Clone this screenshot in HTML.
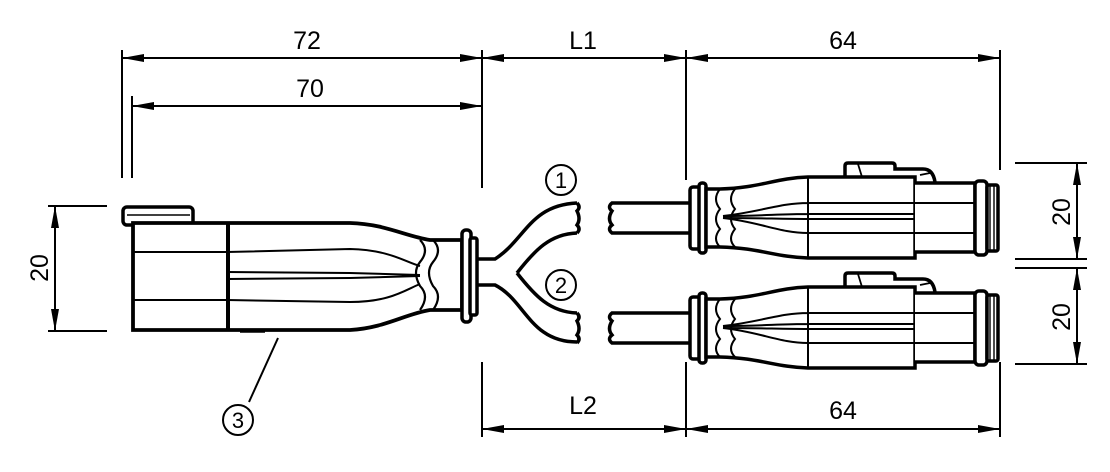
<!DOCTYPE html>
<html><head><style>html,body{margin:0;padding:0;background:#fff}svg{display:block}text{font-family:"Liberation Sans",sans-serif;fill:#000}</style></head>
<body>
<svg width="1110" height="472" viewBox="0 0 1110 472" xmlns="http://www.w3.org/2000/svg">
<defs>
<marker id="a" viewBox="0 0 22 8" refX="22" refY="4" markerWidth="22" markerHeight="8" markerUnits="userSpaceOnUse" orient="auto-start-reverse"><path d="M0,0L22,4L0,8z" fill="#000"/></marker>
<g id="conn" fill="none" stroke="#000">
  <path d="M690,203H612q-5,4 0,8q-5,8 0,14q-5,4 0,8H690" stroke-width="3.5" fill="#fff"/>
  <rect x="690" y="187" width="10" height="62" rx="3" stroke-width="3.5" fill="#fff"/>
  <rect x="699" y="183" width="7" height="70" rx="3" stroke-width="3.5" fill="#fff"/>
  <path d="M706,189H720C760,188 775,178 808,177H915V258H808C775,257 760,248 720,247H706Z" stroke-width="3.5" fill="#fff"/>
  <path d="M720,189q-8,10 0,20q-8,10 0,20q-8,10 0,18M735,189q-8,10 0,20q-8,10 0,20q-8,10 0,18" stroke-width="2"/>
  <path d="M808,177V258M723,216C760,212 780,203 808,203H915M723,216C760,216 780,214 808,214H915M723,218C760,218 780,219 808,219H915M723,218C760,222 780,233 808,233H915" stroke-width="2"/>
  <path d="M845,177V166q0,-3 3,-3H892q3,0 3,3v3h28q10,0 12,13" stroke-width="3.5"/>
  <path d="M858,164l4,13M920,175l10,-2" stroke-width="1.8"/>
  <path d="M915,183H975V252H915" stroke-width="3.5" fill="#fff"/>
  <path d="M915,203H975M915,233H975" stroke-width="2"/>
  <rect x="975" y="181" width="12" height="74" rx="4" stroke-width="3.5" fill="#fff"/>
  <rect x="987" y="185" width="11" height="66" rx="2" stroke-width="3.5" fill="#fff"/>
  <path d="M990,185V251M994,185V251" stroke-width="1.4"/>
</g>
</defs>

<g stroke="#000" fill="none">
<path d="M122,50V178M132,96V178M482,50V188M686,50V180M1000,50V170" stroke-width="2"/>
<line x1="122" y1="58" x2="482" y2="58" stroke-width="2" marker-start="url(#a)" marker-end="url(#a)"/>
<line x1="132" y1="106" x2="482" y2="106" stroke-width="2" marker-start="url(#a)" marker-end="url(#a)"/>
<line x1="482" y1="58" x2="686" y2="58" stroke-width="2" marker-start="url(#a)" marker-end="url(#a)"/>
<line x1="686" y1="58" x2="1000" y2="58" stroke-width="2" marker-start="url(#a)" marker-end="url(#a)"/>
<path d="M482,362V437M686,362V437M1000,362V437" stroke-width="2"/>
<line x1="482" y1="429" x2="686" y2="429" stroke-width="2" marker-start="url(#a)" marker-end="url(#a)"/>
<line x1="686" y1="429" x2="1000" y2="429" stroke-width="2" marker-start="url(#a)" marker-end="url(#a)"/>
<path d="M48,206H107M48,331H107" stroke-width="2"/>
<line x1="55" y1="206" x2="55" y2="331" stroke-width="2" marker-start="url(#a)" marker-end="url(#a)"/>
<path d="M1015,163H1087M1015,259H1087M1015,268H1087M1015,364H1087" stroke-width="2"/>
<line x1="1077" y1="163" x2="1077" y2="259" stroke-width="2" marker-start="url(#a)" marker-end="url(#a)"/>
<line x1="1077" y1="268" x2="1077" y2="364" stroke-width="2" marker-start="url(#a)" marker-end="url(#a)"/>

<rect x="123" y="207" width="70" height="18" rx="4" stroke-width="3.5" fill="#fff"/>
<path d="M127,215H190" stroke-width="1.4"/>
<path d="M133,223H350C385,224 405,236 430,240H462V310H430C405,314 385,328 350,330H133Z" stroke-width="3.8" fill="#fff"/>
<path d="M227,223V330M229,223V330" stroke-width="2"/>
<path d="M133,252H227L350,249C390,250 405,262 420,266M133,300H227L350,302C390,302 405,290 420,284M227,272L350,273L420,275M227,279L350,278L420,276" stroke-width="2"/>
<path d="M420,240q10,10 0,22q-8,10 0,24q10,10 0,24M433,240q10,10 0,22q-8,10 0,24q10,10 0,24" stroke-width="2.2"/>
<path d="M240,331H265" stroke-width="3.5"/>
<rect x="462" y="230" width="9" height="92" rx="4" stroke-width="3.5" fill="#fff"/>
<rect x="470" y="238" width="7" height="77" rx="2" stroke-width="3.5" fill="#fff"/>
<!-- Y split cables -->
<path d="M477,259H495C525,240 530,205 577,203" stroke-width="3.5"/>
<path d="M477,285H495C525,300 530,342 577,342" stroke-width="3.5"/>
<path d="M517,273C535,250 550,234 577,233" stroke-width="3.5"/>
<path d="M517,273C535,296 550,312 577,313" stroke-width="3.5"/>
<path d="M577,203q4,4 0,8q4,8 0,14q4,4 0,8M577,313q4,4 0,8q4,8 0,14q4,4 0,8" stroke-width="3.5"/>
<circle cx="561" cy="180" r="15" stroke-width="2"/>
<circle cx="561" cy="285" r="15" stroke-width="2"/>
<circle cx="238" cy="420" r="15" stroke-width="2"/>
<path d="M278,338L249,402" stroke-width="2"/>
</g>

<use href="#conn"/>
<use href="#conn" transform="translate(0,110)"/>

<g font-size="25">
<text x="307" y="49" text-anchor="middle">72</text>
<text x="310" y="97" text-anchor="middle">70</text>
<text x="583" y="49" text-anchor="middle">L1</text>
<text x="843" y="49" text-anchor="middle">64</text>
<text x="583" y="414" text-anchor="middle">L2</text>
<text x="843" y="419" text-anchor="middle">64</text>
<text transform="translate(48,268) rotate(-90)" text-anchor="middle">20</text>
<text transform="translate(1070,212) rotate(-90)" text-anchor="middle">20</text>
<text transform="translate(1070,317) rotate(-90)" text-anchor="middle">20</text>
</g>
<g font-size="22" text-anchor="middle">
<text x="561" y="188">1</text>
<text x="561" y="293">2</text>
<text x="238" y="428">3</text>
</g>
</svg>
</body></html>
